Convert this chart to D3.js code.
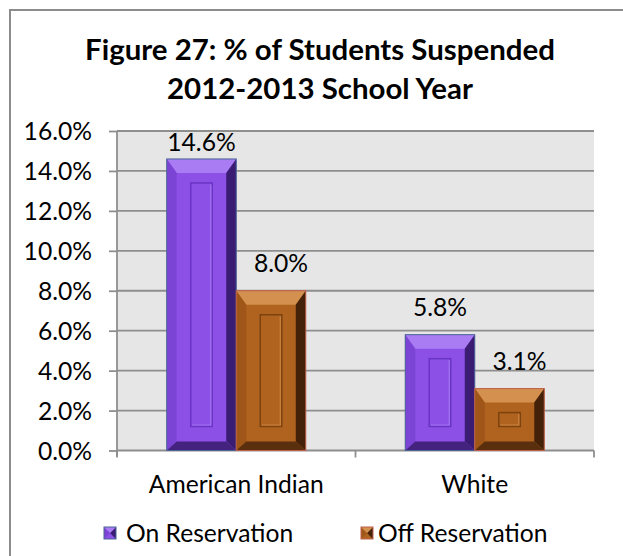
<!DOCTYPE html>
<html>
<head>
<meta charset="utf-8">
<script src="https://cdn.jsdelivr.net/npm/d3@7"></script>
<style>
html,body{margin:0;padding:0;background:#fff;}
svg{display:block;}
text{font-family:Lato,"Open Sans",sans-serif;fill:#000;}
</style>
</head>
<body>
<svg id="chart" width="623" height="556"></svg>
<script>
// ---- data ----
const categories = ["American Indian", "White"];
const seriesNames = ["On Reservation", "Off Reservation"];
const onReservation = [14.6, 5.8];
const offReservation = [8.0, 3.1];
const yTickValues = [0, 2, 4, 6, 8, 10, 12, 14, 16];
const titleLines = ["Figure 27: % of Students Suspended", "2012-2013 School Year"];

// ---- styles ----
const palette = {
  "On Reservation": {face:"#8c50e6", top:"#a97cf4", left:"#7c44d4", right:"#3a1c72", bottom:"#44237f", inner:"#6a34c4", innerHi:"#a273f0", edge:"#4a6596"},
  "Off Reservation": {face:"#b0621f", top:"#d3904f", left:"#9f5618", right:"#44220a", bottom:"#5a2f0e", inner:"#7c430f", innerHi:"#cc8540", edge:"#c0604a"}
};

const svg = d3.select("#chart");
const W = 623, H = 556;
const plot = {left:117, right:594, top:131, bottom:450.5};

// chart border
svg.append("rect").attr("x",10).attr("y",10).attr("width",640).attr("height",580)
  .attr("fill","#fff").attr("stroke","#8c8c8c").attr("stroke-width",2);

// font fitting helper
function measure(str, size, weight){
  const t = svg.append("text").attr("font-size",size).attr("font-weight",weight).text(str);
  const w = t.node().getComputedTextLength();
  t.remove();
  return w;
}
const bodySize = 100 * 175 / measure("American Indian", 100, "normal");
const titleSize = 100 * 470 / measure(titleLines[0], 100, "bold");

// title
svg.selectAll("text.title").data(titleLines).join("text")
  .attr("class","title")
  .attr("x", 320)
  .attr("y", (d,i) => i === 0 ? 60 : 99)
  .attr("text-anchor","middle")
  .attr("font-weight","bold")
  .attr("font-size", titleSize)
  .text(d => d);

// scales
const y = d3.scaleLinear().domain([0,16]).range([plot.bottom, plot.top]);
const x0 = d3.scaleBand().domain(categories).range([plot.left, plot.right]).paddingInner(0.417).paddingOuter(0.2085);
const x1 = d3.scaleBand().domain(seriesNames).range([0, x0.bandwidth()]);

// plot background
svg.append("rect").attr("x",plot.left).attr("y",plot.top)
  .attr("width",plot.right-plot.left).attr("height",plot.bottom-plot.top)
  .attr("fill","#e6e6e6");

// gridlines
svg.append("g").selectAll("line").data(yTickValues.filter(v=>v>0)).join("line")
  .attr("x1",plot.left).attr("x2",plot.right)
  .attr("y1",d=>y(d)).attr("y2",d=>y(d))
  .attr("stroke","#8e8e8e").attr("stroke-width",1.8);

// y axis
const yAxis = d3.axisLeft(y).tickValues(yTickValues).tickSize(8).tickPadding(17)
  .tickFormat(d => d3.format(".1f")(d) + "%");
const gy = svg.append("g").attr("transform",`translate(${plot.left},0)`).call(yAxis);
gy.select(".domain").attr("stroke","#8e8e8e").attr("stroke-width",1.8).attr("d",`M0,${plot.top}V${plot.bottom+6}`);
gy.selectAll(".tick line").attr("stroke","#8e8e8e").attr("stroke-width",1.8);
gy.selectAll(".tick text").attr("font-size",bodySize).attr("font-family","Lato,'Open Sans',sans-serif").attr("fill","#000").attr("dy","0.35em");

// x axis
const xAxis = d3.axisBottom(x0).tickSize(0).tickPadding(0);
const gx = svg.append("g").attr("transform",`translate(0,${plot.bottom})`).call(xAxis);
gx.select(".domain").attr("stroke","#8e8e8e").attr("stroke-width",1.8).attr("d",`M${plot.left},0H${plot.right}`);
gx.selectAll(".tick text").remove();
gx.selectAll(".tick line").remove();
const step = x0.step();
const boundaries = [plot.left, ...categories.map(c => x0(c) + x0.bandwidth()/2 + step/2)];
gx.selectAll("line.tk").data(boundaries).join("line").attr("class","tk")
  .attr("x1",d=>d).attr("x2",d=>d).attr("y1",0).attr("y2",7)
  .attr("stroke","#8e8e8e").attr("stroke-width",1.8);
svg.append("g").selectAll("text").data(categories).join("text")
  .attr("x", d => x0(d) + x0.bandwidth()/2)
  .attr("y", 493)
  .attr("text-anchor","middle")
  .attr("font-size", bodySize)
  .text(d => d);

// bars
const rows = [];
categories.forEach((c,i) => {
  rows.push({cat:c, s:seriesNames[0], v:onReservation[i]});
  rows.push({cat:c, s:seriesNames[1], v:offReservation[i]});
});

function drawBevelBar(g, bx, by, bw, bh, p){
  const bs = 10, bt = 14, bb = 9, ins = 24;
  g.append("rect").attr("x",bx).attr("y",by).attr("width",bw).attr("height",bh).attr("fill",p.face);
  const poly = (pts, fill) => g.append("polygon").attr("points", pts.map(q=>q.join(",")).join(" ")).attr("fill",fill);
  poly([[bx,by],[bx+bw,by],[bx+bw-bs,by+bt],[bx+bs,by+bt]], p.top);
  poly([[bx,by],[bx+bs,by+bt],[bx+bs,by+bh-bb],[bx,by+bh]], p.left);
  poly([[bx+bw,by],[bx+bw,by+bh],[bx+bw-bs,by+bh-bb],[bx+bw-bs,by+bt]], p.right);
  poly([[bx,by+bh],[bx+bw,by+bh],[bx+bw-bs,by+bh-bb],[bx+bs,by+bh-bb]], p.bottom);
  // recessed inner panel
  const iw = bw - 2*ins, ih = bh - 2*ins;
  if (iw > 2 && ih > 2){
    g.append("rect").attr("x",bx+ins).attr("y",by+ins).attr("width",iw).attr("height",ih)
      .attr("fill",p.face).attr("stroke",p.inner).attr("stroke-width",1.5);
    g.append("path").attr("d",`M${bx+ins+iw-1.5},${by+ins+1.5}V${by+ins+ih-1.5}H${bx+ins+1.5}`)
      .attr("fill","none").attr("stroke",p.innerHi).attr("stroke-width",1.2);
  }
  g.append("rect").attr("x",bx).attr("y",by).attr("width",bw).attr("height",bh)
    .attr("fill","none").attr("stroke",p.edge).attr("stroke-width",1);
}

const barG = svg.append("g");
rows.forEach(r => {
  const bx = x0(r.cat) + x1(r.s);
  const by = y(r.v);
  drawBevelBar(barG.append("g"), bx, by, x1.bandwidth(), y(0) - by, palette[r.s]);
});

// data labels
svg.append("g").selectAll("text").data(rows).join("text")
  .attr("x", r => x0(r.cat) + x1(r.s) + x1.bandwidth()/2 + (r.s === seriesNames[1] ? 10 : 0))
  .attr("y", r => Math.max(y(r.v) - 27, plot.top + 11))
  .attr("dy","0.35em")
  .attr("text-anchor","middle")
  .attr("font-size", bodySize)
  .text(r => d3.format(".1f")(r.v) + "%");

// legend
const legendX = {"On Reservation":[104,126], "Off Reservation":[361,378]};
const lg = svg.append("g");
seriesNames.forEach(s => {
  const [mx, tx] = legendX[s];
  const p = palette[s];
  const ms = 12, my = 527;
  const g = lg.append("g");
  g.append("rect").attr("x",mx).attr("y",my).attr("width",ms).attr("height",ms).attr("fill",p.face);
  g.append("polygon").attr("points",`${mx},${my} ${mx+ms/2},${my+ms/2} ${mx},${my+ms}`).attr("fill",p.left);
  g.append("polygon").attr("points",`${mx+ms},${my} ${mx+ms/2},${my+ms/2} ${mx+ms},${my+ms}`).attr("fill",p.right);
  g.append("polygon").attr("points",`${mx},${my} ${mx+ms},${my} ${mx+ms/2},${my+ms/2}`).attr("fill",p.top);
  g.append("rect").attr("x",mx).attr("y",my).attr("width",ms).attr("height",ms).attr("fill","none").attr("stroke",p.edge).attr("stroke-width",1);
  g.append("text").attr("x",tx).attr("y",542).attr("font-size",bodySize).text(s);
});
</script>
</body>
</html>
